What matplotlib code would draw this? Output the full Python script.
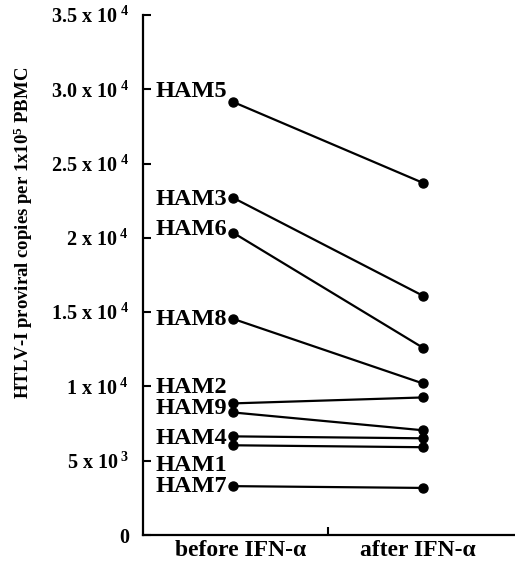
import numpy as np
import matplotlib
matplotlib.use('Agg')
import matplotlib.pyplot as plt
import matplotlib.transforms as mtransforms
from matplotlib.ticker import FixedLocator, FixedFormatter

plt.rcParams['font.family'] = ['Liberation Serif', 'DejaVu Serif']
plt.rcParams['font.weight'] = 'bold'
plt.rcParams['mathtext.fontset'] = 'custom'
plt.rcParams['mathtext.rm'] = 'Liberation Serif:bold'
plt.rcParams['mathtext.default'] = 'rm'

# proviral load per patient, before / after IFN-alpha
patients = ['HAM5', 'HAM3', 'HAM6', 'HAM8', 'HAM2', 'HAM9', 'HAM4', 'HAM1', 'HAM7']
before = [29150, 22700, 20350, 14550, 8860, 8250, 6640, 6040, 3290]
after = [23700, 16100, 12600, 10200, 9260, 7050, 6510, 5910, 3170]
# where the patient name sits (y, data units)
label_y = [29870, 22550, 20540, 14500, 9930, 8520, 6510, 4700, 3290]

conditions = ['before IFN-\u03b1', 'after IFN-\u03b1']
ytick_vals = [0, 5000, 10000, 15000, 20000, 25000, 30000, 35000]
ytick_labels = ['0', '5 x 10$\\,^{3}$', '1 x 10$\\,^{4}$', '1.5 x 10$\\,^{4}$', '2 x 10$\\,^{4}$',
                '2.5 x 10$\\,^{4}$', '3.0 x 10$\\,^{4}$', '3.5 x 10$\\,^{4}$']

fig = plt.figure(figsize=(5.15, 5.67), dpi=100)
ax = fig.add_axes([0.2777, 0.0564, 0.7223, 0.9171])

x = np.array([0, 1])
for name, b, a, ly in zip(patients, before, after, label_y):
    ax.plot(x, [b, a], color='black', lw=1.6, marker='o', ms=6.5,
            mfc='black', mec='black', solid_capstyle='round')
    ax.text(-0.03, ly, name, ha='right', va='center', fontsize=17.5, fontweight='bold')

ax.set_xlim(-0.474, 1.484)
ax.set_ylim(0, 35000)

ax.yaxis.set_major_locator(FixedLocator(ytick_vals))
ax.yaxis.set_major_formatter(FixedFormatter(ytick_labels))
ax.tick_params(axis='y', direction='in', length=6, width=1.5, pad=10, labelsize=14.5)

ax.set_xticks([0.5])
ax.set_xticklabels([])
ax.tick_params(axis='x', direction='in', length=6, width=1.5)
trans = mtransforms.blended_transform_factory(ax.transData, ax.transAxes)
for xc, cond in zip([0.042, 0.974], conditions):
    ax.text(xc, -0.029, cond, transform=trans, ha='center', va='center',
            fontsize=17, fontweight='bold')

ax.set_ylabel('HTLV-I proviral copies per 1x10$^{5}$ PBMC', fontsize=13.5, fontweight='bold')
ax.yaxis.set_label_coords(-0.29, 0.58)

for side in ['top', 'right']:
    ax.spines[side].set_visible(False)
for side in ['left', 'bottom']:
    ax.spines[side].set_linewidth(1.6)

fig.savefig('out.png', dpi=100)
